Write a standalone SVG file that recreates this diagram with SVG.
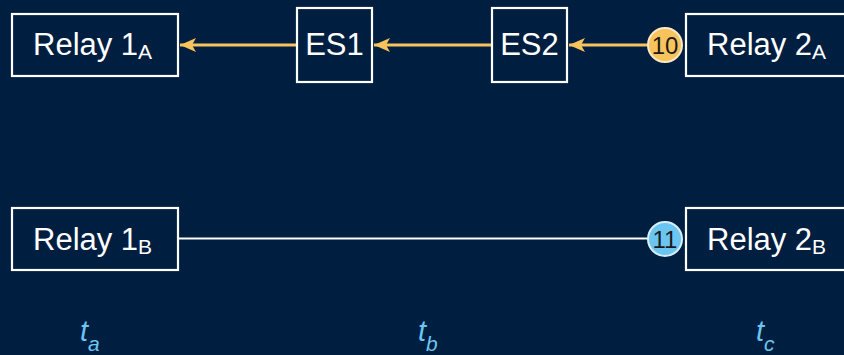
<svg xmlns="http://www.w3.org/2000/svg" width="844" height="355" viewBox="0 0 844 355">
  <defs>
    <marker id="arrowhead" markerUnits="userSpaceOnUse" markerWidth="18" markerHeight="16" refX="16" refY="8" orient="auto">
      <path d="M0,1 L16,8 L0,15 L4,8 Z" fill="#f8c35c"/>
    </marker>
    <style>
      .box { fill: #001e40; stroke: #ffffff; stroke-width: 2.2; }
      .lbl { font-family: "Liberation Sans", Arial, sans-serif; font-size: 31px; fill: #ffffff; }
      .sub { font-size: 21px; }
      .flow { stroke: #f8c35c; stroke-width: 3; fill: none; }
      .link { stroke: #ffffff; stroke-width: 2; fill: none; }
      .badge-txt { font-family: "Liberation Sans Narrow", "Liberation Sans", Arial, sans-serif; font-size: 24px; fill: #1a1a1a; text-anchor: middle; }
      .time { font-family: "Liberation Sans Narrow", "Liberation Sans", Arial, sans-serif; font-style: italic; font-size: 29px; fill: #6cc5f0; }
      .time .sub { font-size: 21px; }
    </style>
  </defs>

  <rect width="844" height="355" fill="#001e40"/>

  <!-- connectors -->
  <g id="connectors">
    <line class="flow" x1="297" y1="45" x2="180" y2="45" marker-end="url(#arrowhead)"/>
    <line class="flow" x1="492" y1="45" x2="374" y2="45" marker-end="url(#arrowhead)"/>
    <line class="flow" x1="648" y1="45" x2="569" y2="45" marker-end="url(#arrowhead)"/>
    <line class="link" x1="178" y1="238.5" x2="648" y2="238.5"/>
  </g>

  <g id="relay1A">
    <rect class="box" x="12" y="14" width="166" height="62"/>
    <text class="lbl" x="33" y="55">Relay 1<tspan class="sub" dy="4">A</tspan></text>
  </g>

  <g id="es1">
    <rect class="box" x="297" y="8" width="75" height="74"/>
    <text class="lbl" x="334.5" y="55" text-anchor="middle">ES1</text>
  </g>

  <g id="es2">
    <rect class="box" x="492" y="8" width="75" height="74"/>
    <text class="lbl" x="529.5" y="55" text-anchor="middle">ES2</text>
  </g>

  <g id="relay2A">
    <rect class="box" x="686" y="14" width="166" height="62"/>
    <text class="lbl" x="707" y="55">Relay 2<tspan class="sub" dy="4">A</tspan></text>
  </g>

  <g id="relay1B">
    <rect class="box" x="12" y="208" width="166" height="62"/>
    <text class="lbl" x="33" y="250">Relay 1<tspan class="sub" dy="4">B</tspan></text>
  </g>

  <g id="relay2B">
    <rect class="box" x="686" y="208" width="166" height="62"/>
    <text class="lbl" x="707" y="250">Relay 2<tspan class="sub" dy="4">B</tspan></text>
  </g>

  <g id="badge10">
    <circle cx="665" cy="45" r="17" fill="#f8c35c" stroke="#fbe8c4" stroke-width="2"/>
    <text class="badge-txt" x="665" y="53.5">10</text>
  </g>

  <g id="badge11">
    <circle cx="665" cy="239" r="17" fill="#6cc5f0" stroke="#d6eefa" stroke-width="2"/>
    <text class="badge-txt" x="665" y="247.5">11</text>
  </g>

  <g id="time-labels">
    <text class="time" x="80" y="341">t<tspan class="sub" dy="10">a</tspan></text>
    <text class="time" x="418" y="341">t<tspan class="sub" dy="10">b</tspan></text>
    <text class="time" x="756" y="341">t<tspan class="sub" dy="10">c</tspan></text>
  </g>
</svg>
